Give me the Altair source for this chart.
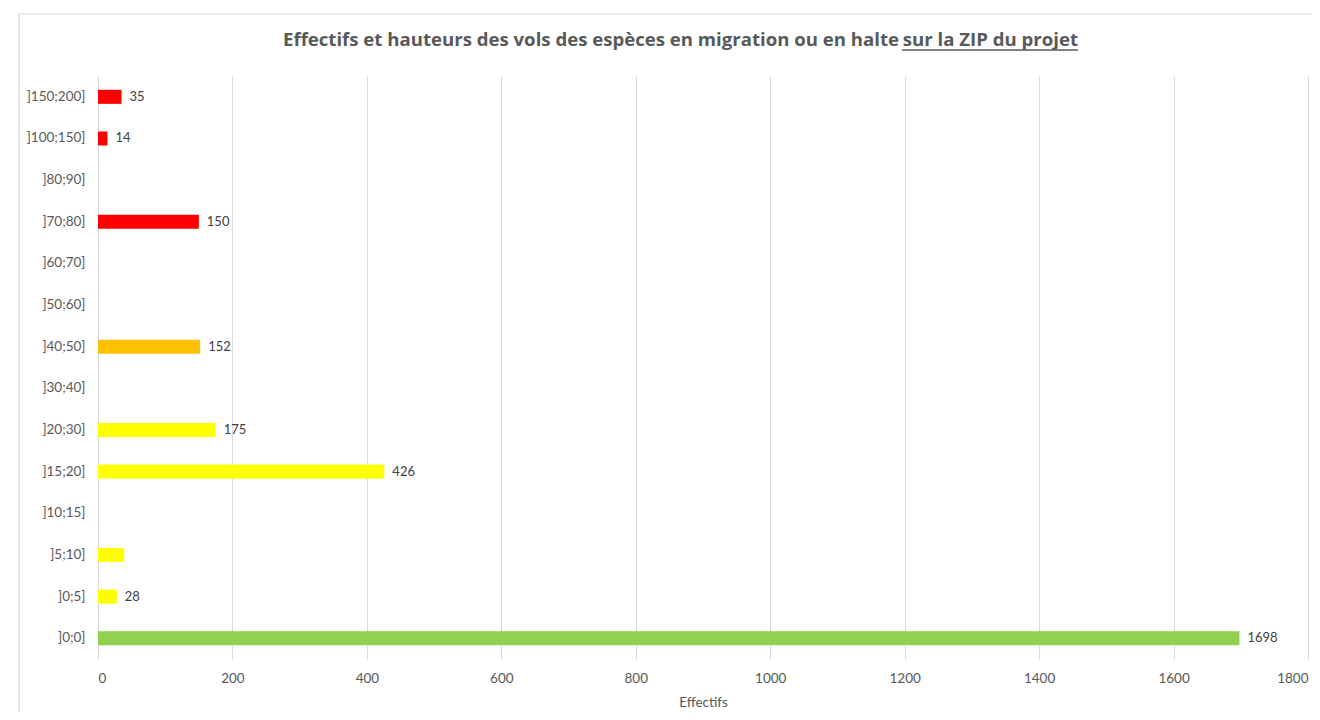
import altair as alt
import pandas as pd

categories = ["]150;200]", "]100;150]", "]80;90]", "]70;80]", "]60;70]", "]50;60]",
              "]40;50]", "]30;40]", "]20;30]", "]15;20]", "]10;15]", "]5;10]", "]0;5]", "]0;0]"]
values = [35, 14, None, 150, None, None, 152, None, 175, 426, None, 39, 28, 1698]
labels = ["35", "14", "", "150", "", "", "152", "", "175", "426", "", "", "28", "1698"]
colors = ["#FF0000", "#FF0000", "#FF0000", "#FF0000", "#FFC000", "#FFC000", "#FFC000",
          "#FFFF00", "#FFFF00", "#FFFF00", "#FFFF00", "#FFFF00", "#FFFF00", "#92D050"]
x_ticks = [0, 200, 400, 600, 800, 1000, 1200, 1400, 1600, 1800]
title_main = "Effectifs et hauteurs des vols des espèces en migration ou en halte"
title_under = "sur la ZIP du projet"

df = pd.DataFrame({"cat": categories, "val": values, "label": labels, "color": colors})

FONT = "Lato"
TFONT = "Open Sans"
GREY = "#595959"

y_enc = alt.Y("cat:N", sort=categories, title=None,
              scale=alt.Scale(paddingInner=0, paddingOuter=0),
              axis=alt.Axis(domain=False, ticks=False, grid=False, labelPadding=13,
                            labelFont=FONT, labelFontSize=13.5, labelColor=GREY))
x_enc = alt.X("val:Q", title="Effectifs",
              scale=alt.Scale(domain=[0, 1800], nice=False),
              axis=alt.Axis(values=x_ticks, format="d", domain=False, ticks=False, grid=True,
                            gridColor="#d9d9d9", labelPadding=12, labelFont=FONT,
                            labelFontSize=13.5, labelColor=GREY, titleFont=FONT,
                            titleFontSize=13.5, titleColor=GREY, titleFontWeight="normal",
                            titlePadding=11))

one = alt.Data(values=[{"a": 1}])

frame = alt.Chart(one).mark_rect(
    filled=False, stroke="#d9d9d9", strokeWidth=1.2
).encode(x=alt.value(-79), x2=alt.value(1400), y=alt.value(-62), y2=alt.value(800))

bars = alt.Chart(df).mark_bar(size=14).encode(
    y=y_enc, x=x_enc, color=alt.Color("color:N", scale=None)
)
text = alt.Chart(df).mark_text(align="left", baseline="middle", dx=8, font=FONT,
                               fontSize=13, color="#404040").encode(
    y=alt.Y("cat:N", sort=categories), x="val:Q", text="label:N"
)

title1 = alt.Chart(one).mark_text(
    align="left", baseline="alphabetic", font=TFONT, fontSize=18.6, fontWeight="bold",
    color=GREY, text=title_main
).encode(x=alt.value(185), y=alt.value(-30))
title2 = alt.Chart(one).mark_text(
    align="right", baseline="alphabetic", font=TFONT, fontSize=18.6, fontWeight="bold",
    color=GREY, text=title_under
).encode(x=alt.value(980), y=alt.value(-30))

underline = alt.Chart(one).mark_rule(
    color=GREY, strokeWidth=1.3
).encode(x=alt.value(804), x2=alt.value(980), y=alt.value(-26))

chart = alt.layer(frame, bars, text, title1, title2, underline).properties(
    width=1210, height=583,
    autosize=alt.AutoSizeParams(type="none"),
    padding={"left": 90, "top": 68, "right": 4, "bottom": 53},
).configure_view(stroke=None)

chart.save("out.html", embed_options={"renderer": "svg", "actions": False})
